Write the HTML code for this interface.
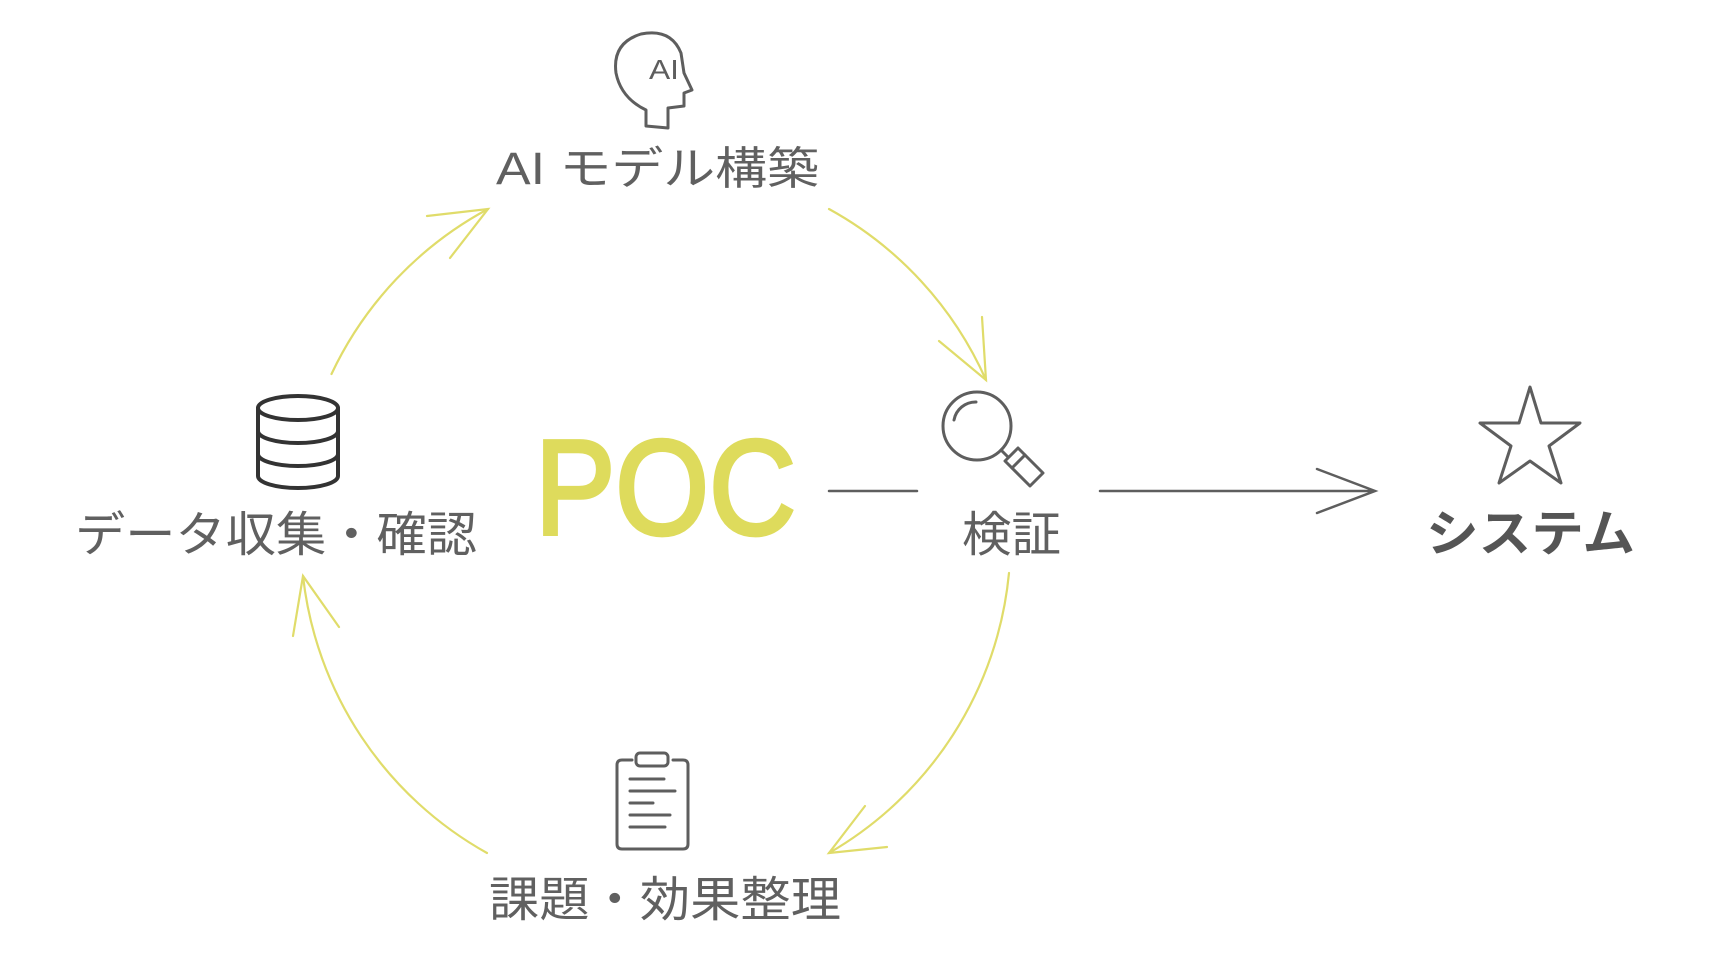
<!DOCTYPE html>
<html><head><meta charset="utf-8"><style>
html,body{margin:0;padding:0;background:#fff;width:1716px;height:965px;overflow:hidden}
svg{display:block}
text{font-family:"Liberation Sans","Noto Sans CJK JP",sans-serif;fill:#606060}
</style></head><body>
<svg width="1716" height="965" viewBox="0 0 1716 965" xmlns="http://www.w3.org/2000/svg">
<g transform="translate(-4,-2)">
<g fill="none" stroke="#e0dc6a" stroke-width="2.2" stroke-linecap="round">
<path d="M335.5,376 A363,363 0 0 1 492,211"/>
<path d="M431,218 L492,211 L454,260"/>
<path d="M833,211 A363,363 0 0 1 990,382"/>
<path d="M943,343 L990,382 L986,319"/>
<path d="M1013,575 A363,363 0 0 1 833,855"/>
<path d="M891,849 L833,855 L869,808"/>
<path d="M491,855 A363,363 0 0 1 307,578"/>
<path d="M297,638 L307,578 L343,629"/>
</g>
<g fill="none" stroke="#5e5e5e" stroke-width="3" stroke-linecap="round" stroke-linejoin="round">
<path d="M650,128 L650,112 Q625,100 620,75 Q616,45 645,36 Q675,30 685,55 L688,75 L696,92 L688,95 L688,108 L672,110 L672,130 Z"/>
<g stroke="#333" stroke-width="4">
<ellipse cx="302" cy="410" rx="40" ry="12"/>
<path d="M262,410 V478 A40,12 0 0 0 342,478 V410"/>
<path d="M262,433 A40,12 0 0 0 342,433"/>
<path d="M262,456 A40,12 0 0 0 342,456"/>
</g>
<circle cx="981" cy="428" r="34"/>
<path d="M958,422 A22,22 0 0 1 980,404"/>
<path d="M1005,452 L1012,459"/>
<path d="M1009,463 L1022,450 L1047,475 L1034,488 Z"/>
<path d="M1016,470 L1029,457"/>
<path d="M636,762 H626 Q621,762 621,767 V846 Q621,851 626,851 H687 Q692,851 692,846 V767 Q692,762 687,762 H677"/>
<rect x="640" y="755" width="32" height="13" rx="4"/>
<path d="M634,781 H668 M634,793 H679 M634,805 H657 M634,817 H674 M634,829 H669"/>
<path d="M1534,389 L1545,425 L1584,425 L1553,448 L1565,485 L1534,463 L1503,485 L1515,448 L1484,425 L1523,425 Z"/>
</g>
<g fill="none" stroke="#5e5e5e" stroke-width="2.5" stroke-linecap="round">
<path d="M833,493 H921"/>
<path d="M1104,493 H1379 M1321,471 L1379,493 L1321,515"/>
</g>
<text x="653" y="81" font-size="28" textLength="30" lengthAdjust="spacingAndGlyphs" style="fill:#5e5e5e">AI</text>
<text x="500" y="186" font-size="45" textLength="323" lengthAdjust="spacingAndGlyphs">AI モデル構築</text>
<text x="79" y="553" font-size="48" textLength="402" lengthAdjust="spacingAndGlyphs">データ収集・確認</text>
<text x="966" y="553" font-size="48" textLength="99" lengthAdjust="spacingAndGlyphs">検証</text>
<text x="1430" y="553" font-size="50" font-weight="bold" textLength="209" lengthAdjust="spacingAndGlyphs" style="fill:#555">システム</text>
<text x="493" y="918" font-size="48" textLength="352" lengthAdjust="spacingAndGlyphs">課題・効果整理</text>
<text x="539" y="536" font-size="135" textLength="261" lengthAdjust="spacingAndGlyphs" style="fill:#dedb5c;stroke:#dedb5c;stroke-width:4">POC</text>
</g>
</svg>
</body></html>
